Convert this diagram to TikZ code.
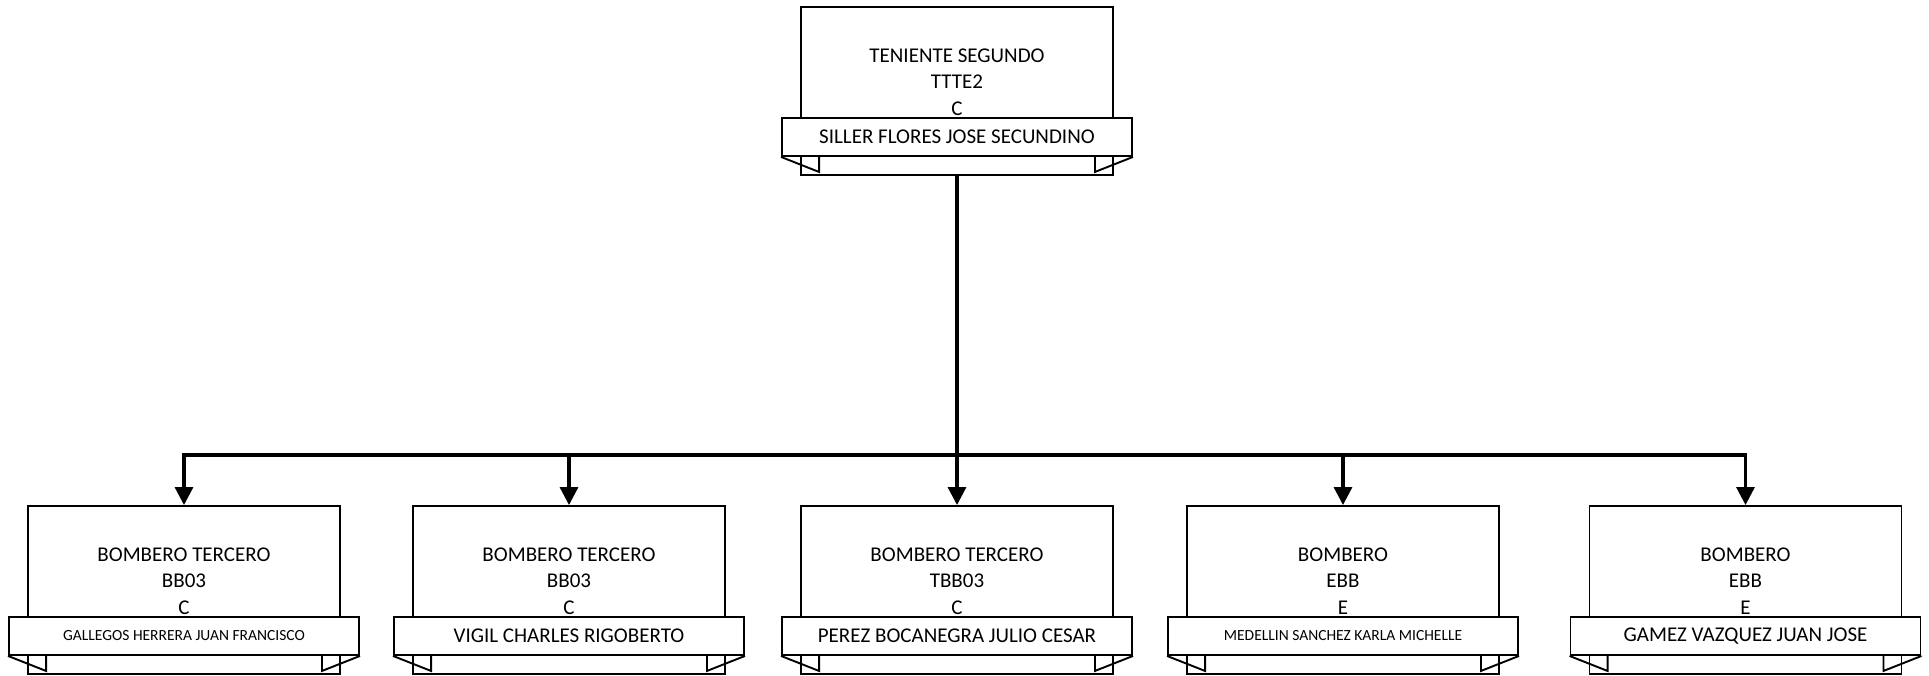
\documentclass[tikz,border=0pt]{standalone}
\usepackage{fontspec}
\setmainfont{Carlito}
\usetikzlibrary{arrows.meta}
\tikzset{
  mainbox/.style={draw, line width=1.9pt, minimum width=312pt, minimum height=168pt, inner sep=0pt, fill=white},
  banner/.style={draw, line width=1.9pt, minimum width=350pt, minimum height=38pt, inner sep=0pt, fill=white, font=\fontsize{21}{26}\selectfont},
  info/.style={align=center, inner sep=0pt, font=\fontsize{21}{26.5}\selectfont},
  tabline/.style={draw, line width=1.9pt, line join=miter},
  conn/.style={line width=3.1pt, line cap=rect},
  arr/.style={line width=3.1pt, -{Triangle[length=18pt,width=18pt]}},
}
\newcommand{\orgunit}[6]{%
  \node[mainbox] (#1) at (#2,#3+84) {};
  \node[info] (#1t) at (#2,#3+75) {#4};
  \node[banner] (#1b) at (#2,#3+130) {#6#5};
  \draw[tabline] (#1b.south west) -- ++(38,15) -- ++(0,-15);
  \draw[tabline] (#1b.south east) -- ++(-38,15) -- ++(0,-15);
}
\begin{document}
\begin{tikzpicture}[x=1pt,y=-1pt]
\useasboundingbox (0,0) rectangle (1929,676);
\orgunit{top}{957}{7}{TENIENTE SEGUNDO\\TTTE2\\C}{SILLER FLORES JOSE SECUNDINO}{}
\orgunit{ca}{184}{506}{BOMBERO TERCERO\\BB03\\C}{GALLEGOS HERRERA JUAN FRANCISCO}{\fontsize{15.5}{18}\selectfont}
\orgunit{cb}{569}{506}{BOMBERO TERCERO\\BB03\\C}{VIGIL CHARLES RIGOBERTO}{}
\orgunit{cc}{957}{506}{BOMBERO TERCERO\\TBB03\\C}{PEREZ BOCANEGRA JULIO CESAR}{}
\orgunit{cd}{1343}{506}{BOMBERO\\EBB\\E}{MEDELLIN SANCHEZ KARLA MICHELLE}{\fontsize{15.5}{18}\selectfont}
\orgunit{ce}{1745.5}{506}{BOMBERO\\EBB\\E}{GAMEZ VAZQUEZ JUAN JOSE}{}
\coordinate (bus) at (957,455);
\draw[conn] (top.south) -- (bus);
\draw[conn] (bus -| ca.north) -- (bus -| ce.north);
\foreach \c in {ca,cb,cc,cd,ce}{
  \draw[arr] (bus -| \c.north) -- (\c.north);
}
\end{tikzpicture}
\end{document}
